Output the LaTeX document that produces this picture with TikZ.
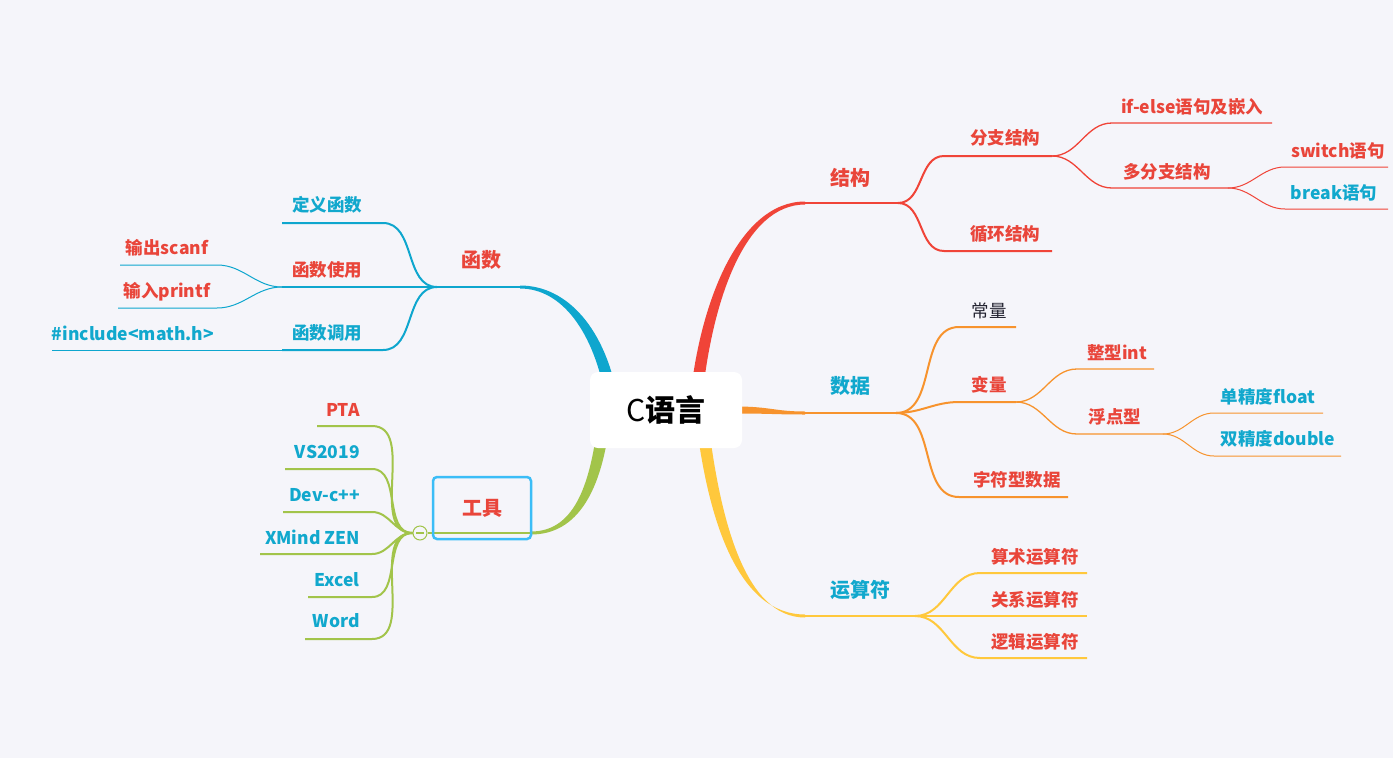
\documentclass[tikz,border=0pt]{standalone}
\usepackage{fontspec}
\setmainfont{Noto Sans CJK SC}
\usetikzlibrary{calc}
\definecolor{bgcol}{HTML}{F5F5FA}
\definecolor{linered}{HTML}{F04438}
\definecolor{lineblue}{HTML}{0EA6CE}
\definecolor{lineorange}{HTML}{F7932D}
\definecolor{lineyellow}{HTML}{FFC83C}
\definecolor{linegreen}{HTML}{A2C44A}
\definecolor{boxblue}{HTML}{3BBDF7}
\definecolor{txtred}{HTML}{E9453A}
\definecolor{txtblue}{HTML}{11A8CD}
\definecolor{txtdark}{HTML}{222230}

\begin{document}
\begin{tikzpicture}[x=1pt,y=-1pt,
					every node/.style={font=\bfseries\fontsize{17.5}{19}\selectfont, inner sep=0pt},
					topic/.style={font=\bfseries\fontsize{20}{22}\selectfont},
					rtxt/.style={text=txtred},
					btxt/.style={text=txtblue},
					thick1/.style={line width=2.5pt},
					thick2/.style={line width=2pt},
					thin3/.style={line width=1.3pt},
					thin4/.style={line width=1pt},
					sright/.style={out=0, in=180},
					sleft/.style={out=180, in=0},
					rootbox/.style={fill=white, rounded corners=8pt, minimum width=152pt, minimum height=76pt},
					toolbox/.style={draw=boxblue, line width=2.5pt, rounded corners=4pt, minimum width=98pt, minimum height=62pt}]
	\fill[bgcol] (0,0) rectangle (1393,758);
	\useasboundingbox (0,0) rectangle (1393,758);

	% main branches
	\fill[linered] (805,201.5) .. controls (740,201.5) and (700,300) .. (690,400) -- (702,400) .. controls (712,300) and (745,204.5) .. (805,204.5) -- cycle;
	\fill[lineblue] (520,285.5) .. controls (568,285.5) and (606,330) .. (618,400) -- (606,400) .. controls (594,332) and (562,288.5) .. (520,288.5) -- cycle;
	\fill[lineyellow] (805,614.5) .. controls (738,614.5) and (708,520) .. (696,420) -- (708,420) .. controls (720,520) and (745,617.5) .. (805,617.5) -- cycle;
	\fill[linegreen] (531,531.5) .. controls (572,531.5) and (590,490) .. (598,420) -- (610,420) .. controls (602,490) and (578,534.5) .. (531,534.5) -- cycle;
	\fill[lineorange] (736,406.5) .. controls (770,406.5) and (775,411.5) .. (805,411.5) -- (805,414.5) .. controls (775,414.5) and (770,413.5) .. (736,413.5) -- cycle;

	\node[rootbox] (root) at (666,410) {\fontsize{30}{32}\selectfont{\mdseries C}语言};

	% 结构
	\coordinate (jgA) at (805,203);
	\coordinate (jgB) at (898,203);
	\coordinate (fzA) at (944,156);
	\coordinate (fzB) at (1052,156);
	\coordinate (xhA) at (944,251);
	\coordinate (xhB) at (1052,251);
	\coordinate (ifA) at (1112,123);
	\coordinate (ifB) at (1272,123);
	\coordinate (dfA) at (1112,188);
	\coordinate (dfB) at (1228,188);
	\coordinate (swA) at (1285,167);
	\coordinate (swB) at (1388,167);
	\coordinate (bkA) at (1285,209);
	\coordinate (bkB) at (1388,209);
	\draw[linered, thick1] (jgA) -- (jgB);
	\draw[linered, thick2] (jgB) to[sright] (fzA) -- (fzB);
	\draw[linered, thick2] (jgB) to[sright] (xhA) -- (xhB);
	\draw[linered, thin3] (fzB) to[sright] (ifA) -- (ifB);
	\draw[linered, thin3] (fzB) to[sright] (dfA) -- (dfB);
	\draw[linered, thin4] (dfB) to[sright] (swA) -- (swB);
	\draw[linered, thin4] (dfB) to[sright] (bkA) -- (bkB);
	\node[topic, rtxt] (jg) at (850,178) {结构};
	\node[rtxt] (fz) at (1005,138) {分支结构};
	\node[rtxt] (xh) at (1005,234) {循环结构};
	\node[rtxt] (ifel) at (1192,107) {if-else语句及嵌入};
	\node[rtxt] (dfz) at (1167,172) {多分支结构};
	\node[rtxt] (sw) at (1338,151) {switch语句};
	\node[btxt] (bk) at (1334,193) {break语句};

	% 数据
	\coordinate (sjA) at (805,413);
	\coordinate (sjB) at (896,413);
	\coordinate (clA) at (959,327);
	\coordinate (clB) at (1016,327);
	\coordinate (blA) at (959,402);
	\coordinate (blB) at (1016,402);
	\coordinate (zfA) at (959,497);
	\coordinate (zfB) at (1068,497);
	\coordinate (zxA) at (1077,369);
	\coordinate (zxB) at (1154,369);
	\coordinate (fdA) at (1077,434);
	\coordinate (fdB) at (1163,434);
	\coordinate (djA) at (1214,413);
	\coordinate (djB) at (1323,413);
	\coordinate (sdA) at (1214,456);
	\coordinate (sdB) at (1341,456);
	\draw[lineorange, thick1] (sjA) -- (sjB);
	\draw[lineorange, thick2] (sjB) to[sright] (clA) -- (clB);
	\draw[lineorange, thick2] (sjB) to[sright] (blA) -- (blB);
	\draw[lineorange, thick2] (sjB) to[sright] (zfA) -- (zfB);
	\draw[lineorange, thin3] (blB) to[sright] (zxA) -- (zxB);
	\draw[lineorange, thin3] (blB) to[sright] (fdA) -- (fdB);
	\draw[lineorange, thin4] (fdB) to[sright] (djA) -- (djB);
	\draw[lineorange, thin4] (fdB) to[sright] (sdA) -- (sdB);
	\node[topic, btxt] (sj) at (850,386) {数据};
	\node[text=txtdark, font=\mdseries\fontsize{17.5}{19}\selectfont] (cl) at (989,311) {常量};
	\node[rtxt] (bl) at (989,385) {变量};
	\node[rtxt] (zf) at (1017,480) {字符型数据};
	\node[rtxt] (zx) at (1117,353) {整型int};
	\node[rtxt] (fd) at (1115,417) {浮点型};
	\node[btxt] (dj) at (1268,397) {单精度float};
	\node[btxt] (sd) at (1278,439) {双精度double};

	% 运算符
	\coordinate (ysA) at (805,616);
	\coordinate (ysB) at (915,616);
	\coordinate (ssA) at (980,573);
	\coordinate (ssB) at (1087,573);
	\coordinate (gxB) at (1087,616);
	\coordinate (ljA) at (980,658);
	\coordinate (ljB) at (1087,658);
	\draw[lineyellow, thick1] (ysA) -- (ysB);
	\draw[lineyellow, thick2] (ysB) to[sright] (ssA) -- (ssB);
	\draw[lineyellow, thick2] (ysB) -- (gxB);
	\draw[lineyellow, thick2] (ysB) to[sright] (ljA) -- (ljB);
	\node[topic, btxt] (ysf) at (860,590) {运算符};
	\node[rtxt] (ss) at (1035,557) {算术运算符};
	\node[rtxt] (gx) at (1035,600) {关系运算符};
	\node[rtxt] (lj) at (1035,642) {逻辑运算符};

	% 函数
	\coordinate (hsA) at (520,287);
	\coordinate (hsB) at (437,287);
	\coordinate (dyA) at (383,223);
	\coordinate (dyB) at (282,223);
	\coordinate (syB) at (282,287);
	\coordinate (scA) at (217,265);
	\coordinate (scB) at (120,265);
	\coordinate (prA) at (217,308);
	\coordinate (prB) at (118,308);
	\coordinate (dbA) at (383,350);
	\coordinate (dbB) at (282,350);
	\coordinate (incB) at (52,350);
	\draw[lineblue, thick1] (hsA) -- (hsB);
	\draw[lineblue, thick2] (hsB) to[sleft] (dyA) -- (dyB);
	\draw[lineblue, thick2] (hsB) -- (syB);
	\draw[lineblue, thick2] (hsB) to[sleft] (dbA) -- (dbB);
	\draw[lineblue, thin4] (syB) to[sleft] (scA) -- (scB);
	\draw[lineblue, thin4] (syB) to[sleft] (prA) -- (prB);
	\draw[lineblue, thin4] (dbB) -- (incB);
	\node[topic, rtxt] (hs) at (481,260) {函数};
	\node[btxt] (dy) at (327,205) {定义函数};
	\node[rtxt] (sy) at (327,270) {函数使用};
	\node[btxt] (db) at (327,333) {函数调用};
	\node[rtxt] (sc) at (167,248) {输出scanf};
	\node[rtxt] (pr) at (167,292) {输入printf};
	\node[btxt] (inc) at (133,333) {\#include<math.h>};

	% 工具
	\coordinate (gjA) at (531,533);
	\node[circle, draw=linegreen, fill=bgcol, line width=1pt, minimum size=14pt] (fold) at (420,533) {};
	\draw[linegreen, line width=1.2pt] ($(fold.center)+(-4,0)$) -- ($(fold.center)+(4,0)$);
	\draw[linegreen, thick1] (fold.east) -- (gjA);
	\foreach \name/\ya/\xb in {pta/426/317, vs/469/285, dev/512/283, xm/554/260, ex/597/308, wd/639/305} {
		\coordinate (\name A) at (372,\ya);
		\coordinate (\name B) at (\xb,\ya);
		\draw[linegreen, thick2] (fold.west) to[sleft] (\name A) -- (\name B);
	}
	\node[toolbox, rtxt, font=\bfseries\fontsize{20}{22}\selectfont] (gj) at (482,508) {工具};
	\node[rtxt, anchor=east] (pta) at (360,410) {PTA};
	\node[btxt, anchor=east] (vs) at (360,452) {VS2019};
	\node[btxt, anchor=east] (dev) at (360,495) {Dev-c++};
	\node[btxt, anchor=east] (xm) at (360,537) {XMind ZEN};
	\node[btxt, anchor=east] (ex) at (360,580) {Excel};
	\node[btxt, anchor=east] (wd) at (360,621) {Word};
\end{tikzpicture}
\end{document}
